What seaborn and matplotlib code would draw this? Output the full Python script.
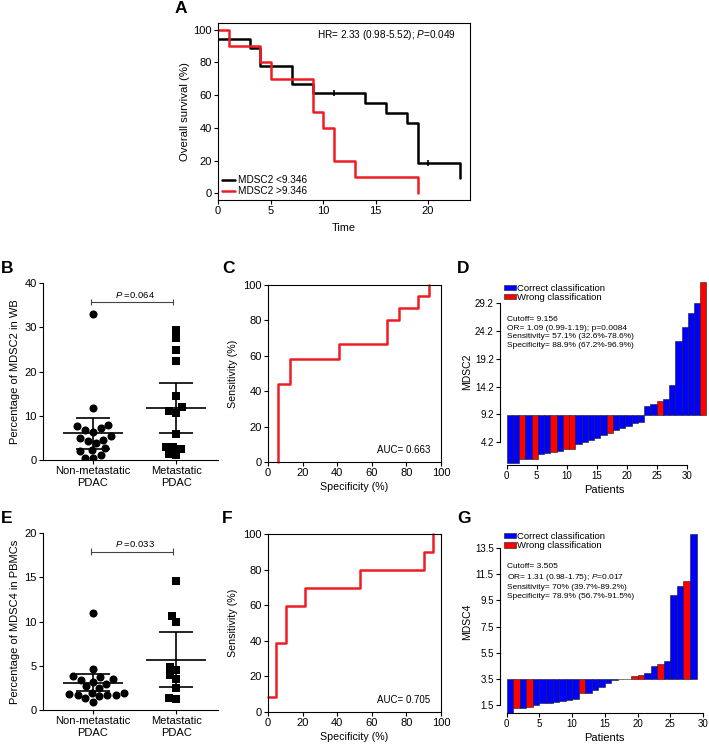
import numpy as np
import pandas as pd
import matplotlib
matplotlib.use('Agg')
import matplotlib.pyplot as plt
from matplotlib.patches import Patch
import seaborn as sns

# ---------------- data ----------------
# A: Kaplan-Meier, overall survival (%)
km_low_t = [0, 3, 4, 7, 9, 14, 16, 18, 19, 23]
km_low_s = [94.4, 88.9, 77.8, 66.7, 61.1, 55.0, 48.9, 42.8, 18.3, 9.2]
km_low_cens_t = [11, 20]
km_low_cens_s = [61.1, 18.3]
km_high_t = [0, 1, 4, 5, 9, 10, 11, 13, 19]
km_high_s = [100, 90, 80, 70, 50, 40, 20, 10, 0]

GROUPS = ['Non-metastatic\nPDAC', 'Metastatic\nPDAC']

# B / D: % MDSC2 in whole blood
wb_non_met = [0.4, 0.5, 1.2, 2.0, 2.2, 2.7, 3.8, 4.2, 4.6, 4.9, 5.5, 6.4, 6.7,
              7.2, 7.6, 7.9, 11.7, 33.1]
wb_met = [1.15, 1.25, 2.5, 2.95, 3.05, 5.9, 10.7, 11.1, 11.9, 14.5, 22.4, 24.9,
          27.5, 29.3]
wb_center = [6.0, 11.8]
wb_lo = [2.5, 6.1]
wb_hi = [9.5, 17.5]
wb_cutoff = 9.156
wb_yticks = [4.2, 9.2, 14.2, 19.2, 24.2, 29.2]

# E / G: % MDSC4 in PBMCs
pb_non_met = [0.9, 1.3, 1.54, 1.67, 1.68, 1.72, 1.8, 1.87, 1.97, 2.45, 2.69, 2.9,
              3.2, 3.4, 3.47, 3.7, 3.8, 4.67, 11.0]
pb_met = [1.25, 1.36, 2.43, 3.52, 3.96, 4.47, 4.9, 9.94, 10.6, 14.6]
pb_center = [3.1, 5.7]
pb_lo = [2.1, 2.6]
pb_hi = [4.1, 8.8]
pb_cutoff = 3.505
pb_yticks = [1.5, 3.5, 5.5, 7.5, 9.5, 11.5, 13.5]

# C / F: ROC step curves (specificity %, sensitivity %)
roc_c_spec = [5.5, 12.8, 41.0, 68.5, 76.0, 86.5, 92.8, 92.8]
roc_c_sens = [0, 44, 58, 66.5, 80, 87, 94, 100]
roc_f_spec = [0, 4.8, 10.2, 21.4, 53.1, 90.2, 95.6, 95.6]
roc_f_sens = [8.5, 8.5, 38.5, 59.6, 69.5, 79.5, 89.7, 100]

d_stats = ['Cutoff= 9.156', 'OR= 1.09 (0.99-1.19); p=0.0084',
           'Sensitivity= 57.1% (32.6%-78.6%)', 'Specificity= 88.9% (67.2%-96.9%)']
g_stats = ['Cutoff= 3.505', r'OR= 1.31 (0.98-1.75); $\mathit{P}$=0.017',
           'Sensitivity= 70% (39.7%-89.2%)', 'Specificity= 78.9% (56.7%-91.5%)']

RED = '#ee1c24'
BAR_BLUE = '#0000ff'
BAR_RED = '#ff0000'

# ---------------- style ----------------
sns.set_style('ticks', {'axes.edgecolor': 'black', 'xtick.color': 'black',
                        'ytick.color': 'black', 'text.color': 'black',
                        'axes.labelcolor': 'black'})
plt.rcParams['font.family'] = ['Liberation Sans', 'DejaVu Sans']
plt.rcParams['mathtext.fontset'] = 'custom'
plt.rcParams['mathtext.rm'] = 'Liberation Sans'
plt.rcParams['mathtext.it'] = 'Liberation Sans:italic'
plt.rcParams['axes.linewidth'] = 0.8
plt.rcParams['xtick.major.width'] = 0.8
plt.rcParams['ytick.major.width'] = 0.8
plt.rcParams['xtick.major.size'] = 3
plt.rcParams['ytick.major.size'] = 3

fig = plt.figure(figsize=(7.09, 7.47), dpi=100)


def px_axes(left, top, right, bottom):
    W, H = 709, 747
    return fig.add_axes([left / W, 1 - bottom / H, (right - left) / W, (bottom - top) / H])


# ---------------- A: Kaplan-Meier ----------------
ax = px_axes(218, 23, 470, 200)
ax.step(km_low_t, km_low_s, where='post', color='black', lw=1.8, label='MDSC2 <9.346')
ax.step(km_high_t, km_high_s, where='post', color=RED, lw=1.8, label='MDSC2 >9.346')
ax.plot(km_low_cens_t, km_low_cens_s, ls='none', marker='|', color='black', ms=5, mew=1.2)
ax.set_xlim(0, 24)
ax.set_ylim(-4, 104)
ax.set_xticks([0, 5, 10, 15, 20])
ax.set_yticks([0, 20, 40, 60, 80, 100])
ax.tick_params(labelsize=8, pad=1.5)
ax.set_xlabel('Time', fontsize=7.8, labelpad=5)
ax.set_ylabel('Overall survival (%)', fontsize=8.2, labelpad=2)
ax.text(0.944, 0.932, r'HR= 2.33 (0.98-5.52); $\mathit{P}$=0.049', transform=ax.transAxes,
        ha='right', va='center', fontsize=7.2)
ax.legend(loc='lower left', bbox_to_anchor=(0.0, 0.0), frameon=False, fontsize=7.2,
          handlelength=1.3, handletextpad=0.3, labelspacing=0.1, borderpad=0.2,
          borderaxespad=0.2)


# ---------------- B / E: dot plots ----------------
def dot_panel(ax, non_met, met, center, lo, hi, ylim, yticks, ylabel, bracket_y, text_y, p_text):
    df = pd.DataFrame({'group': [GROUPS[0]] * len(non_met) + [GROUPS[1]] * len(met),
                       'value': non_met + met})
    sns.swarmplot(data=df[df['group'] == GROUPS[0]], x='group', y='value', order=GROUPS,
                  marker='o', color='black', size=5.8, ax=ax, zorder=3)
    sns.swarmplot(data=df[df['group'] == GROUPS[1]], x='group', y='value', order=GROUPS,
                  marker='s', color='black', size=5.3, ax=ax, zorder=3)
    pos = np.arange(len(GROUPS))
    center = np.array(center)
    ax.errorbar(pos, center, yerr=[center - np.array(lo), np.array(hi) - center],
                fmt='none', ecolor='black', elinewidth=1.2, capsize=12, capthick=1.2, zorder=2)
    ax.hlines(center, pos - 0.36, pos + 0.36, color='black', lw=1.2, zorder=2)
    # significance bracket
    tick_h = (ylim[1] - ylim[0]) * 0.018
    ax.plot([pos[0] - 0.03, pos[1] - 0.04], [bracket_y, bracket_y], color='#444444', lw=0.8)
    ax.vlines([pos[0] - 0.03, pos[1] - 0.04], bracket_y - tick_h, bracket_y + tick_h,
              color='#444444', lw=0.8)
    ax.text(0.5, text_y, p_text, ha='center', va='center', fontsize=6.8)
    ax.set_xlim(-0.6, 1.5)
    ax.set_ylim(*ylim)
    ax.set_yticks(yticks)
    ax.set_xlabel('')
    ax.set_ylabel(ylabel, fontsize=8, labelpad=3)
    ax.tick_params(labelsize=8, pad=1.5)
    sns.despine(ax=ax)
    for sp in ax.spines.values():
        sp.set_clip_on(False)


ax = px_axes(43, 283, 218, 460)
dot_panel(ax, wb_non_met, wb_met, wb_center, wb_lo, wb_hi, (0, 40), [0, 10, 20, 30, 40],
          'Percentage of MDSC2 in WB', 35.7, 37.4, r'$\mathit{P}$ =0.064')

ax = px_axes(43, 533, 218, 710)
dot_panel(ax, pb_non_met, pb_met, pb_center, pb_lo, pb_hi, (0, 20), [0, 5, 10, 15, 20],
          'Percentage of MDSC4 in PBMCs', 17.9, 18.75, r'$\mathit{P}$ =0.033')


# ---------------- C / F: ROC curves ----------------
def roc_panel(ax, spec, sens, auc_text):
    ax.step(spec, sens, where='pre', color=RED, lw=1.8, clip_on=False)
    ax.set_xlim(0, 100)
    ax.set_ylim(0, 100)
    ax.set_xticks(range(0, 101, 20))
    ax.set_yticks(range(0, 101, 20))
    ax.tick_params(labelsize=8, pad=1.5)
    ax.set_xlabel('Specificity (%)', fontsize=7.7, labelpad=3)
    ax.set_ylabel('Sensitivity (%)', fontsize=7.7, labelpad=4)
    ax.text(94, 7, auc_text, ha='right', va='center', fontsize=7)


ax = px_axes(268, 285, 441, 462)
roc_panel(ax, roc_c_spec, roc_c_sens, 'AUC= 0.663')
ax = px_axes(268, 534, 441, 712)
roc_panel(ax, roc_f_spec, roc_f_sens, 'AUC= 0.705')


# ---------------- D / G: waterfall plots ----------------
def waterfall(ax, non_met, met, cutoff, width, yticks, ylim, xlim, ylabel, stats, leg_y, txt_y):
    vals = np.array(non_met + met)
    is_met = np.array([False] * len(non_met) + [True] * len(met))
    order = np.argsort(vals, kind='stable')
    vals, is_met = vals[order], is_met[order]
    wrong = np.where(is_met, vals < cutoff, vals >= cutoff)
    colors = np.where(wrong, BAR_RED, BAR_BLUE)
    x = np.arange(len(vals)) * width
    ax.bar(x, vals - cutoff, width=width, bottom=cutoff, align='edge', color=colors,
           edgecolor='#1a1a1a', linewidth=0.4)
    ax.set_xlim(*xlim)
    ax.set_ylim(*ylim)
    ax.set_xticks([0, 5, 10, 15, 20, 25, 30])
    ax.set_yticks(yticks)
    ax.set_yticklabels([f'{t:.1f}' for t in yticks])
    sns.despine(ax=ax)
    ax.spines['left'].set_bounds(yticks[0], yticks[-1])
    ax.spines['bottom'].set_bounds(0, 30)
    ax.tick_params(labelsize=7, pad=1.5)
    ax.set_ylabel(ylabel, fontsize=7.5, labelpad=2)
    ax.set_xlabel('Patients', fontsize=8, labelpad=3)
    handles = [Patch(facecolor=BAR_BLUE, edgecolor='#1a1a1a', lw=0.4, label='Correct classification'),
               Patch(facecolor=BAR_RED, edgecolor='#1a1a1a', lw=0.4, label='Wrong classification')]
    ax.legend(handles=handles, loc='upper left', bbox_to_anchor=(0.02, leg_y), frameon=False,
              fontsize=6.8, handlelength=1.2, handleheight=0.5, handletextpad=0.15,
              labelspacing=0.05, borderpad=0, borderaxespad=0)
    ax.text(0.033, txt_y, '\n'.join(stats), transform=ax.transAxes, va='top', ha='left',
            fontsize=6, linespacing=1.3)


ax = px_axes(500, 279, 709, 465)
waterfall(ax, wb_non_met, wb_met, wb_cutoff, 1.04, wb_yticks, (0.1, 33.6), (-1.12, 33.7),
          'MDSC2', d_stats, 0.975, 0.80)
ax = px_axes(500, 531, 709, 713)
waterfall(ax, pb_non_met, pb_met, pb_cutoff, 1.0, pb_yticks, (0.9, 14.8), (-1.02, 30.9),
          'MDSC4', g_stats, 0.995, 0.825)

# ---------------- panel letters ----------------
for letter, x, y in [('A', 175, 1), ('B', 1, 261), ('C', 222, 261), ('D', 457, 261),
                     ('E', 1, 511), ('F', 222, 511), ('G', 457, 511)]:
    fig.text(x / 709, 1 - y / 747, letter, fontsize=12.5, fontweight='bold', ha='left', va='top')

fig.savefig('out.png', dpi=100)
